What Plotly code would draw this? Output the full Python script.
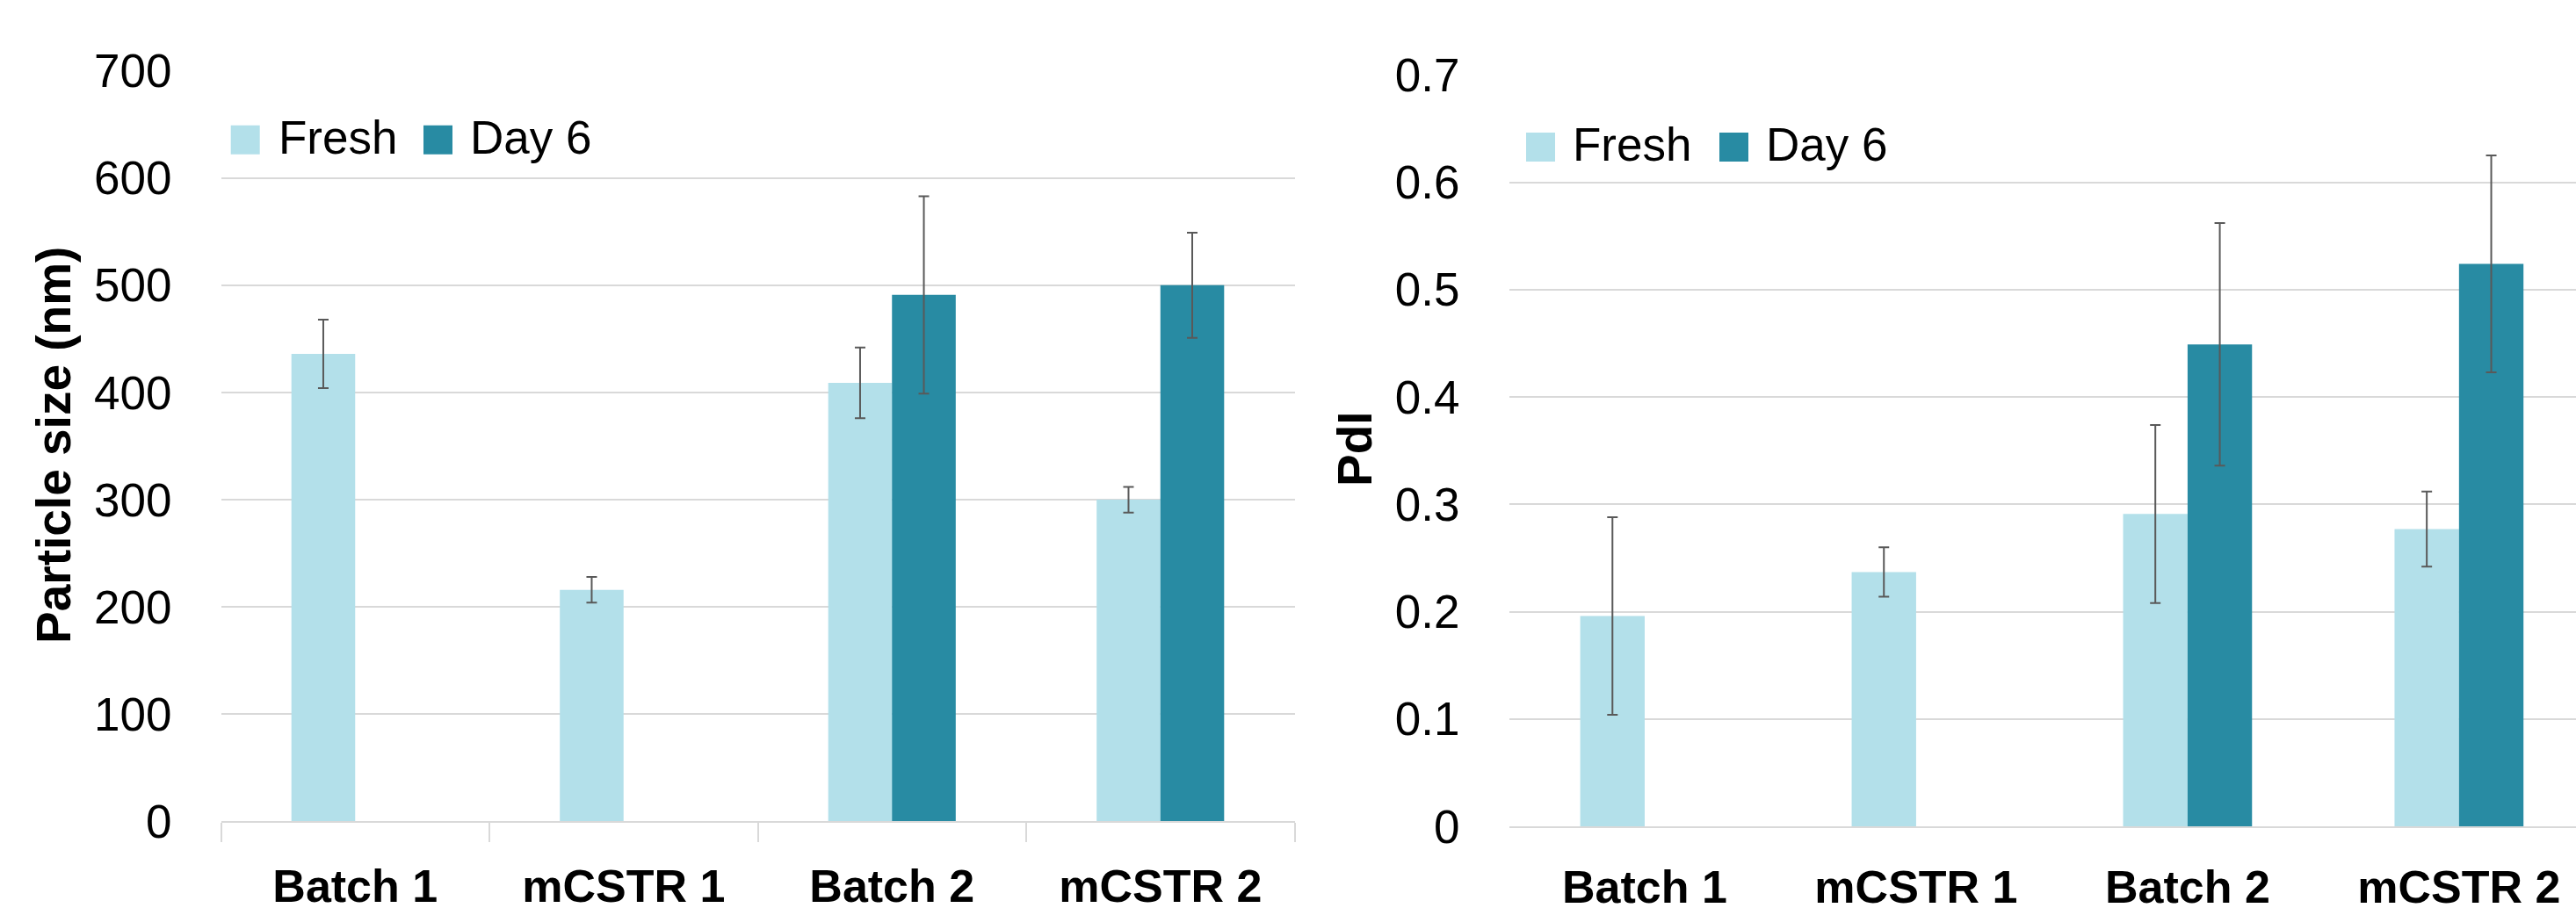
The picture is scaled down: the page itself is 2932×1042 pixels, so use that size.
import plotly.graph_objects as go

# ---------------- data ----------------
categories = ["Batch 1", "mCSTR 1", "Batch 2", "mCSTR 2"]
series_names = ["Fresh", "Day 6"]

size_fresh = [436, 216, 409, 300]
size_fresh_err = [32, 12, 33, 12]
size_day6 = [None, None, 491, 500]
size_day6_err = [0, 0, 92, 49]

pdi_fresh = [0.196, 0.237, 0.291, 0.277]
pdi_fresh_err = [0.092, 0.023, 0.083, 0.035]
pdi_day6 = [None, None, 0.449, 0.524]
pdi_day6_err = [0, 0, 0.113, 0.101]

size_ticks = [0, 100, 200, 300, 400, 500, 600, 700]
pdi_ticks = [0, 0.1, 0.2, 0.3, 0.4, 0.5, 0.6, 0.7]

# ---------------- style ----------------
W, H = 2932, 1042
LIGHT = "#B3E0EA"
DARK = "#288BA3"
ERR = "#595959"
GRID = "#D9D9D9"
FONT = "Liberation Sans, Arial, sans-serif"


def px(x):
    return x / W


def py(y):
    return 1 - y / H


fig = go.Figure()

err_style = dict(type="data", color=ERR, thickness=2, width=6, visible=True)

fig.add_trace(go.Bar(x=categories, y=size_fresh, name=series_names[0], marker_color=LIGHT,
                     marker_line_width=0, error_y=dict(array=size_fresh_err, **err_style),
                     xaxis="x", yaxis="y", showlegend=False))
fig.add_trace(go.Bar(x=categories, y=size_day6, name=series_names[1], marker_color=DARK,
                     marker_line_width=0, error_y=dict(array=size_day6_err, **err_style),
                     xaxis="x", yaxis="y", showlegend=False))
fig.add_trace(go.Bar(x=categories, y=pdi_fresh, name=series_names[0], marker_color=LIGHT,
                     marker_line_width=0, error_y=dict(array=pdi_fresh_err, **err_style),
                     xaxis="x2", yaxis="y2", showlegend=False))
fig.add_trace(go.Bar(x=categories, y=pdi_day6, name=series_names[1], marker_color=DARK,
                     marker_line_width=0, error_y=dict(array=pdi_day6_err, **err_style),
                     xaxis="x2", yaxis="y2", showlegend=False))

tickfont = dict(family=FONT, size=53, color="black")
catfont = dict(family=FONT, size=52, color="black", weight="bold")

fig.update_layout(
    template="none",
    width=W, height=H,
    margin=dict(l=0, r=0, t=0, b=0, pad=0, autoexpand=False),
    paper_bgcolor="white", plot_bgcolor="white",
    barmode="group", bargap=0.525, bargroupgap=0,
    xaxis=dict(domain=[px(251.5), px(1473.5)], anchor="y", type="category",
               automargin=False,
               range=[-0.5, 3.5], showgrid=False, showline=True, linecolor=GRID,
               linewidth=2, ticks="outside", tickson="boundaries", ticklen=22,
               tickwidth=2, tickcolor=GRID, tickfont=catfont, ticklabelstandoff=27),
    yaxis=dict(domain=[py(935.4), py(80.6)], anchor="x", range=[0, 700],
               automargin=False,
               tickvals=size_ticks, showgrid=True, gridcolor=GRID, gridwidth=2,
               zeroline=False, showline=False, ticks="", tickfont=tickfont,
               ticklabelstandoff=55),
    xaxis2=dict(domain=[px(1717.5), 1.0], anchor="y2", type="category",
                automargin=False,
                range=[-0.5, 3.431], showgrid=False, showline=True, linecolor=GRID,
                linewidth=2, ticks="", tickfont=catfont, ticklabelstandoff=22),
    yaxis2=dict(domain=[py(941.1), py(85.4)], anchor="x2", range=[0, 0.7],
                automargin=False,
                tickvals=pdi_ticks, showgrid=True, gridcolor=GRID, gridwidth=2,
                zeroline=False, showline=False, ticks="", tickfont=tickfont,
                ticklabelstandoff=55),
)

annotations = [
    dict(text="<b>Particle size (nm)</b>", x=px(61), y=py(507), textangle=-90,
         font=dict(family=FONT, size=55, color="black")),
    dict(text="<b>PdI</b>", x=px(1542), y=py(511), textangle=-90,
         font=dict(family=FONT, size=55, color="black")),
    dict(text=series_names[0], x=px(315), y=py(157), xanchor="left",
         font=dict(family=FONT, size=53, color="black")),
    dict(text=series_names[1], x=px(533), y=py(157), xanchor="left",
         font=dict(family=FONT, size=53, color="black")),
    dict(text=series_names[0], x=px(1788), y=py(164), xanchor="left",
         font=dict(family=FONT, size=53, color="black")),
    dict(text=series_names[1], x=px(2008), y=py(164), xanchor="left",
         font=dict(family=FONT, size=53, color="black")),
]
for a in annotations:
    a.setdefault("xanchor", "center")
    a.update(xref="paper", yref="paper", yanchor="middle", showarrow=False)
fig.update_layout(annotations=annotations)

swatches = [
    (262.7, 142.7, LIGHT), (482, 142.7, DARK),
    (1737, 151, LIGHT), (1957, 151, DARK),
]
shapes = []
for x0, y0, c in swatches:
    shapes.append(dict(type="rect", xref="paper", yref="paper",
                       x0=px(x0), x1=px(x0 + 33), y0=py(y0 + 33), y1=py(y0),
                       fillcolor=c, line_width=0))
fig.update_layout(shapes=shapes)

fig.write_html("out.html")
